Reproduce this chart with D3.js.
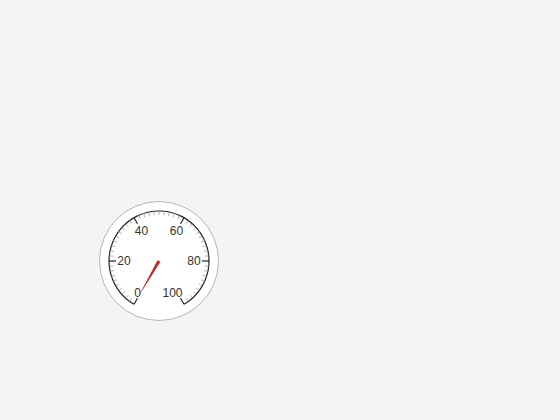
<!DOCTYPE html>
<html>
<head>
  <style>
    body { margin: 0; background: #f4f4f4; }
    .label { font-family: "Liberation Sans", Arial, sans-serif; font-size: 12px; fill: #333; }
  </style>
</head>
<body>
  <div id="chart"></div>
  <script src="https://cdnjs.cloudflare.com/ajax/libs/d3/7.8.5/d3.min.js"></script>
  <script>
    // gauge data
    const majorTicks = [0, 20, 40, 60, 80, 100];
    const minorTicks = d3.range(0, 101, 2).filter(v => v % 20 !== 0);
    const gaugeValue = [0];

    const width = 560, height = 420;
    const cx = 159, cy = 261;
    const outerR = 59.5, arcR = 50, labelR = 35, needleLen = 42;

    const svg = d3.select("#chart").append("svg")
      .attr("width", width)
      .attr("height", height);

    const g = svg.append("g").attr("transform", `translate(${cx},${cy})`);

    // value -> angle in degrees, clockwise from 12 o'clock
    const angle = d3.scaleLinear().domain([0, 100]).range([-150, 150]);
    const rad = d => d * Math.PI / 180;
    const px = (v, r) => r * Math.sin(rad(angle(v)));
    const py = (v, r) => -r * Math.cos(rad(angle(v)));

    g.append("circle")
      .attr("r", outerR)
      .attr("fill", "#fff")
      .attr("stroke", "#b5b5b5")
      .attr("stroke-width", 1);

    // scale arc
    g.append("path")
      .attr("d", d3.arc()
        .innerRadius(arcR).outerRadius(arcR)
        .startAngle(rad(angle(0))).endAngle(rad(angle(100)))())
      .attr("fill", "none")
      .attr("stroke", "#222")
      .attr("stroke-width", 1.2);

    g.selectAll(".minor").data(minorTicks).join("line")
      .attr("class", "minor")
      .attr("x1", d => px(d, arcR)).attr("y1", d => py(d, arcR))
      .attr("x2", d => px(d, arcR - 4)).attr("y2", d => py(d, arcR - 4))
      .attr("stroke", "#999")
      .attr("stroke-width", 0.8);

    g.selectAll(".major").data(majorTicks).join("line")
      .attr("class", "major")
      .attr("x1", d => px(d, arcR)).attr("y1", d => py(d, arcR))
      .attr("x2", d => px(d, arcR - 7)).attr("y2", d => py(d, arcR - 7))
      .attr("stroke", "#222")
      .attr("stroke-width", 1.2);

    // labels sitting low on the dial are pulled a little to the left
    g.selectAll(".label").data(majorTicks).join("text")
      .attr("class", "label")
      .attr("x", d => px(d, labelR) - (Math.abs(angle(d)) > 120 ? 4 : 0))
      .attr("y", d => py(d, labelR + (Math.abs(angle(d)) > 120 ? 1.5 : 0)))
      .attr("dy", "0.35em")
      .attr("text-anchor", "middle")
      .text(d => d);

    // needle: tapered triangle from centre to tip
    g.selectAll(".needle").data(gaugeValue).join("path")
      .attr("class", "needle")
      .attr("d", v => {
        const a = rad(angle(v));
        const tip = [needleLen * Math.sin(a), -needleLen * Math.cos(a)];
        const w = 1.7;
        const b1 = [w * Math.cos(a), w * Math.sin(a)];
        const b2 = [-w * Math.cos(a), -w * Math.sin(a)];
        return `M${b1}L${tip}L${b2}Z`;
      })
      .attr("fill", "#c0282d");
  </script>
</body>
</html>
